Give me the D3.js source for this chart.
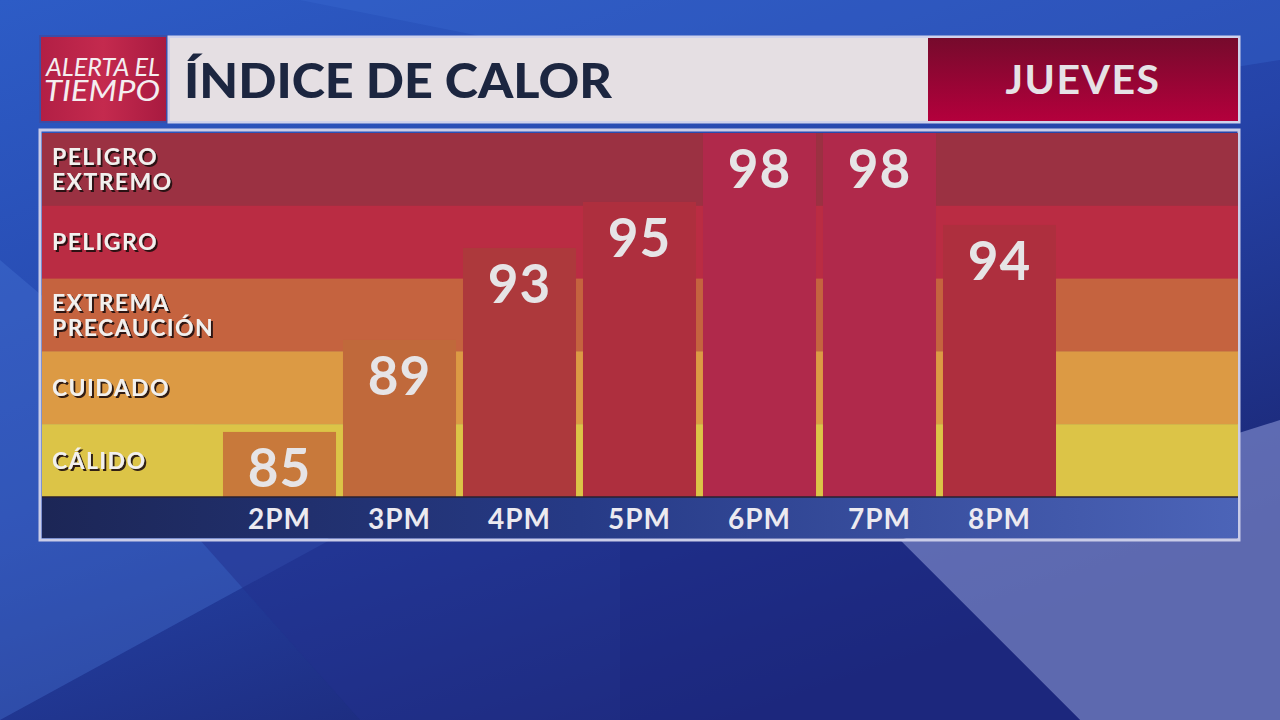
<!DOCTYPE html>
<html>
<head>
<meta charset="utf-8">
<title>Índice de calor</title>
<script src="https://d3js.org/d3.v7.min.js"></script>
<style>
  body { margin: 0; background: #1e3a9a; }
  svg { display: block; }
  text { font-family: Lato, "Open Sans", sans-serif; font-weight: 700; }
  .band-label { fill: #f2f0ee; font-size: 23px; letter-spacing: 1.4px; filter: url(#shadow); }
  .value-label { fill: #e6e4e6; font-size: 53px; text-anchor: middle; letter-spacing: 1px; }
  .axis text { fill: #eceaf0; font-size: 28px; letter-spacing: 1px; }
</style>
</head>
<body>
<svg width="1280" height="720"></svg>
<script>
// data
const hours = ["2PM", "3PM", "4PM", "5PM", "6PM", "7PM", "8PM"];
const heatIndex = [85, 89, 93, 95, 98, 98, 94];
// risk bands, top to bottom
const levels = ["PELIGRO EXTREMO", "PELIGRO", "EXTREMA PRECAUCIÓN", "CUIDADO", "CÁLIDO"];
const levelLines = [["PELIGRO", "EXTREMO"], ["PELIGRO"], ["EXTREMA", "PRECAUCIÓN"], ["CUIDADO"], ["CÁLIDO"]];
// value where each higher level starts (CÁLIDO → CUIDADO → EXTREMA → PELIGRO → EXTREMO)
const levelBreaks = [87, 91, 94, 97];

const width = 1280, height = 720;
const svg = d3.select("svg");
const defs = svg.append("defs");

// background gradient
const bg = defs.append("linearGradient").attr("id", "bg")
  .attr("x1", 0).attr("y1", 0).attr("x2", 0.6).attr("y2", 1);
bg.append("stop").attr("offset", 0).attr("stop-color", "#2d5cc6");
bg.append("stop").attr("offset", 0.55).attr("stop-color", "#2543a8");
bg.append("stop").attr("offset", 1).attr("stop-color", "#1a2470");
svg.append("rect").attr("width", width).attr("height", height).attr("fill", "url(#bg)");

// light shapes
svg.append("path").attr("d", "M0,260 L330,540 L0,720 Z").attr("fill", "#4a78d8").attr("opacity", 0.35);
svg.append("path").attr("d", "M900,540 L1280,420 L1280,720 L1080,720 Z").attr("fill", "#7480c4").attr("opacity", 0.75);
svg.append("path").attr("d", "M620,540 L900,540 L1080,720 L620,720 Z").attr("fill", "#1e2a86").attr("opacity", 0.6);
svg.append("path").attr("d", "M200,540 L620,540 L620,720 L360,720 Z").attr("fill", "#22308e").attr("opacity", 0.5);
svg.append("path").attr("d", "M300,0 L1280,0 L1280,60 L900,120 Z").attr("fill", "#3a6ad0").attr("opacity", 0.35);

// shadow filter for band labels
const f = defs.append("filter").attr("id", "shadow").attr("x", "-10%").attr("y", "-30%").attr("width", "130%").attr("height", "160%");
f.append("feDropShadow").attr("dx", 2).attr("dy", 2).attr("stdDeviation", 0.6)
  .attr("flood-color", "#1a1010").attr("flood-opacity", 0.9);

// ---------- header ----------
const logoGrad = defs.append("linearGradient").attr("id", "logo").attr("x1", 0).attr("x2", 1);
logoGrad.append("stop").attr("offset", 0).attr("stop-color", "#b21f45");
logoGrad.append("stop").attr("offset", 0.5).attr("stop-color", "#c42a4e");
logoGrad.append("stop").attr("offset", 1).attr("stop-color", "#a81a40");
svg.append("rect").attr("x", 40).attr("y", 36).attr("width", 127).attr("height", 86)
  .attr("fill", "url(#logo)").attr("stroke", "#3a4ea8").attr("stroke-width", 2);
svg.append("text").attr("x", 46).attr("y", 76).attr("fill", "#f4eef0")
  .attr("font-style", "italic").attr("font-size", 26).attr("textLength", 114)
  .attr("lengthAdjust", "spacingAndGlyphs").style("font-family", "'Liberation Sans Narrow', Lato, sans-serif")
  .style("font-weight", 400)
  .text("ALERTA EL");
svg.append("text").attr("x", 44).attr("y", 101).attr("fill", "#f4eef0")
  .attr("font-style", "italic").attr("font-size", 28).attr("textLength", 116)
  .attr("lengthAdjust", "spacingAndGlyphs").style("font-family", "'Liberation Sans Narrow', Lato, sans-serif")
  .style("font-weight", 400)
  .text("TIEMPO");

svg.append("rect").attr("x", 169).attr("y", 37).attr("width", 1070).attr("height", 85)
  .attr("fill", "none").attr("stroke", "#cfd2ec").attr("stroke-width", 3);
svg.append("rect").attr("x", 170).attr("y", 38).attr("width", 758).attr("height", 83).attr("fill", "#e5dfe3");
svg.append("text").attr("x", 184).attr("y", 98).attr("fill", "#1c2640")
  .attr("font-size", 47).attr("textLength", 428).attr("lengthAdjust", "spacingAndGlyphs")
  .style("font-weight", 900)
  .text("ÍNDICE DE CALOR");

const dayGrad = defs.append("linearGradient").attr("id", "day").attr("x1", 0).attr("y1", 0).attr("x2", 0).attr("y2", 1);
dayGrad.append("stop").attr("offset", 0).attr("stop-color", "#760a2c");
dayGrad.append("stop").attr("offset", 1).attr("stop-color", "#b4003c");
svg.append("rect").attr("x", 928).attr("y", 38).attr("width", 310).attr("height", 83).attr("fill", "url(#day)");
svg.append("text").attr("x", 1083).attr("y", 94).attr("text-anchor", "middle").attr("fill", "#e6e2e6")
  .attr("font-size", 41).attr("letter-spacing", 1.5).text("JUEVES");

// ---------- chart ----------
const plot = { left: 42, right: 1238, top: 133, bottom: 497 };

const x = d3.scaleBand().domain(hours)
  .range([219.5, 1059.5]).paddingInner(0.058).paddingOuter(0.029);
const y = d3.scaleLinear().domain([82.17, 98]).range([plot.bottom, plot.top]);
const yBand = d3.scaleBand().domain(levels).range([plot.top, plot.bottom]);

const bandColor = d3.scaleOrdinal().domain(levels)
  .range(["#9b3142", "#ba2c43", "#c5633f", "#dc9a44", "#dcc447"]);
const barColor = d3.scaleOrdinal().domain(levels)
  .range(["#b0294b", "#ae2f3e", "#ad393c", "#c0693b", "#c8793b"]);
const levelOf = d3.scaleThreshold().domain(levelBreaks).range(levels.slice().reverse());

svg.append("rect").attr("x", 40).attr("y", 130).attr("width", 1199).attr("height", 410)
  .attr("fill", "none").attr("stroke", "#c9cce8").attr("stroke-width", 3);

svg.append("g").selectAll("rect").data(levels).join("rect")
  .attr("x", plot.left).attr("width", plot.right - plot.left)
  .attr("y", d => yBand(d)).attr("height", yBand.step() + 0.5)
  .attr("fill", d => bandColor(d));

svg.append("g").selectAll("rect").data(heatIndex).join("rect")
  .attr("x", (d, i) => x(hours[i])).attr("width", x.bandwidth())
  .attr("y", d => y(d)).attr("height", d => plot.bottom - y(d))
  .attr("fill", d => barColor(levelOf(d)));

svg.append("g").selectAll("text").data(heatIndex).join("text")
  .attr("class", "value-label")
  .attr("x", (d, i) => x(hours[i]) + x.bandwidth() / 2)
  .attr("y", d => y(d) + 55)
  .text(d => d);

// band labels
const labels = svg.append("g").selectAll("text").data(levels).join("text")
  .attr("class", "band-label")
  .attr("x", 52)
  .attr("y", (d, i) => yBand(d) + yBand.step() / 2 + (levelLines[i].length === 1 ? 8 : -4));
labels.selectAll("tspan").data((d, i) => levelLines[i]).join("tspan")
  .attr("x", 52).attr("dy", (d, j) => j === 0 ? 0 : 25).text(d => d);

// axis strip
const axGrad = defs.append("linearGradient").attr("id", "axis").attr("x1", 0).attr("x2", 1);
axGrad.append("stop").attr("offset", 0).attr("stop-color", "#1c2656");
axGrad.append("stop").attr("offset", 0.45).attr("stop-color", "#263a86");
axGrad.append("stop").attr("offset", 1).attr("stop-color", "#4c64b8");
svg.append("rect").attr("x", plot.left).attr("y", plot.bottom).attr("width", plot.right - plot.left)
  .attr("height", 41).attr("fill", "url(#axis)");
svg.append("line").attr("x1", plot.left).attr("x2", plot.right).attr("y1", plot.bottom).attr("y2", plot.bottom)
  .attr("stroke", "#2a2030").attr("stroke-width", 1.5);

const axis = svg.append("g").attr("class", "axis")
  .attr("transform", `translate(0,${plot.bottom})`)
  .call(d3.axisBottom(x).tickSize(0).tickPadding(8));
axis.select(".domain").remove();
axis.selectAll("text").attr("dy", "0.71em").attr("y", 12).style("font-family", "Lato, sans-serif");
</script>
</body>
</html>
